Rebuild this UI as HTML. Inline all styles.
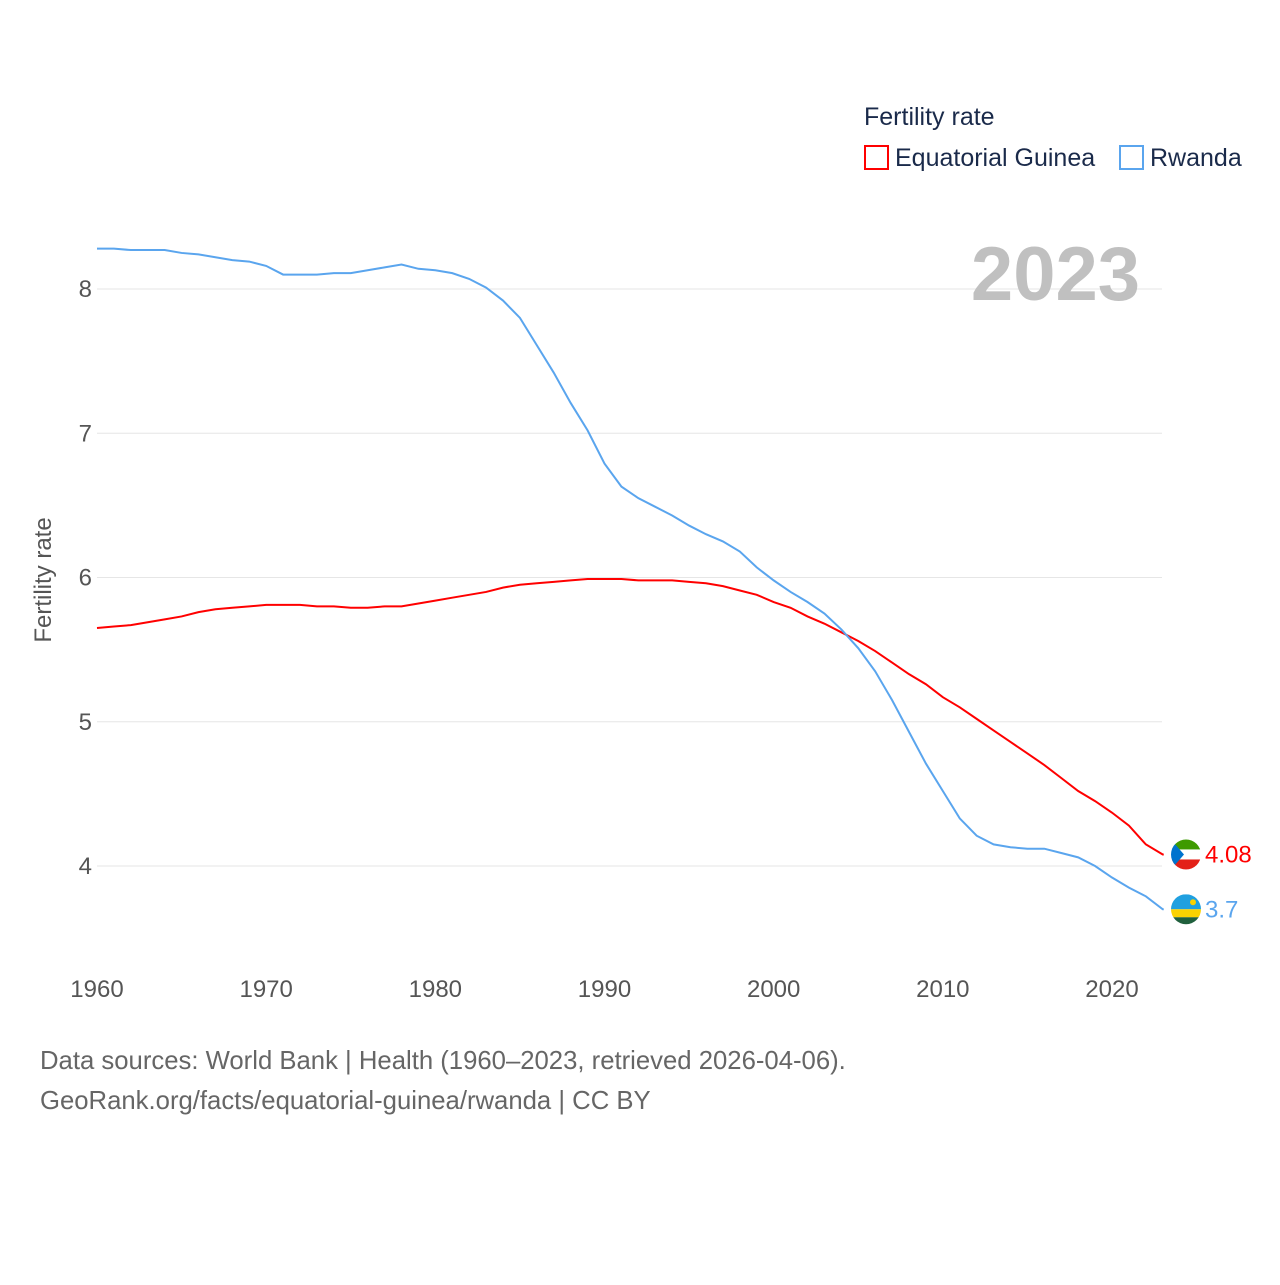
<!DOCTYPE html>
<html><head><meta charset="utf-8"><style>
body{margin:0;background:#fff;font-family:"Liberation Sans",sans-serif}
svg text{font-family:"Liberation Sans",sans-serif}
</style></head><body>
<svg width="1280" height="1280" viewBox="0 0 1280 1280">
<g id="grid"></g><g id="lines"></g>
<text x="864" y="125" font-size="25" fill="#1a2a4a">Fertility rate</text>
<g><rect x="865" y="146" width="23" height="23" fill="none" stroke="#f00" stroke-width="2"/><text x="895" y="166" font-size="25" fill="#1a2a4a">Equatorial Guinea</text></g>
<g><rect x="1120" y="146" width="23" height="23" fill="none" stroke="#5aa5ee" stroke-width="2"/><text x="1150" y="166" font-size="25" fill="#1a2a4a">Rwanda</text></g>
<text x="1140" y="300" font-size="76" font-weight="bold" fill="#c0c0c0" text-anchor="end">2023</text>
<text transform="translate(51,580) rotate(-90)" font-size="24" fill="#555" text-anchor="middle">Fertility rate</text>
<text x="40" y="1069" font-size="25.7" fill="#666">Data sources: World Bank | Health (1960–2023, retrieved 2026-04-06).</text>
<text x="40" y="1109" font-size="25.7" fill="#666">GeoRank.org/facts/equatorial-guinea/rwanda | CC BY</text>
</svg>
<script>
const years=[];for(let y=1960;y<=2023;y++)years.push(y);
const yTicks=[4,5,6,7,8];
const xTicks=[1960,1970,1980,1990,2000,2010,2020];
const rwanda=[8.28,8.28,8.27,8.27,8.27,8.25,8.24,8.22,8.20,8.19,8.16,8.10,8.10,8.10,8.11,8.11,8.13,8.15,8.17,8.14,8.13,8.11,8.07,8.01,7.92,7.80,7.61,7.42,7.21,7.02,6.79,6.63,6.55,6.49,6.43,6.36,6.30,6.25,6.18,6.07,5.98,5.90,5.83,5.75,5.64,5.51,5.35,5.15,4.93,4.71,4.52,4.33,4.21,4.15,4.13,4.12,4.12,4.09,4.06,4.00,3.92,3.85,3.79,3.70];
const eqGuinea=[5.65,5.66,5.67,5.69,5.71,5.73,5.76,5.78,5.79,5.80,5.81,5.81,5.81,5.80,5.80,5.79,5.79,5.80,5.80,5.82,5.84,5.86,5.88,5.90,5.93,5.95,5.96,5.97,5.98,5.99,5.99,5.99,5.98,5.98,5.98,5.97,5.96,5.94,5.91,5.88,5.83,5.79,5.73,5.68,5.62,5.56,5.49,5.41,5.33,5.26,5.17,5.10,5.02,4.94,4.86,4.78,4.70,4.61,4.52,4.45,4.37,4.28,4.15,4.08];
const X=y=>97+(y-1960)*(1112-97)/60;
const Y=v=>866-(v-4)*144.25;
const NS="http://www.w3.org/2000/svg";
const grid=document.getElementById('grid'),lines=document.getElementById('lines');
yTicks.forEach(t=>{
 const l=document.createElementNS(NS,'line');
 
 
 l.setAttribute('x1',97);l.setAttribute('x2',1162);l.setAttribute('y1',Y(t));l.setAttribute('y2',Y(t));l.setAttribute('stroke','#e6e6e6');grid.appendChild(l);
 const tx=document.createElementNS(NS,'text');
 
 
 tx.setAttribute('x',92);tx.setAttribute('y',Y(t)+8);tx.setAttribute('font-size',24);tx.setAttribute('fill','#555');tx.setAttribute('text-anchor','end');tx.textContent=t;grid.appendChild(tx);
});
xTicks.forEach(t=>{
 const tx=document.createElementNS(NS,'text');
 
 
 tx.setAttribute('x',X(t));tx.setAttribute('y',997);tx.setAttribute('font-size',24);tx.setAttribute('fill','#555');tx.setAttribute('text-anchor','middle');tx.textContent=t;grid.appendChild(tx);
});
function series(vals,color,name){
 const p=document.createElementNS(NS,'polyline');
 
 
 const pts=vals.map((v,i)=>X(years[i])+','+Y(v));
 pts.push((X(2023)+1)+','+Y(vals[vals.length-1]));
 p.setAttribute('points',pts.join(' '));
 p.setAttribute('fill','none');p.setAttribute('stroke',color);p.setAttribute('stroke-width',2);lines.appendChild(p);
 const last=vals[vals.length-1];
 const cy=Y(last);
 const g=document.createElementNS(NS,'g');
 
 
 if(name==='rwanda'){
  g.innerHTML=`<clipPath id="cr"><circle cx="1186" cy="${cy}" r="15"/></clipPath><g clip-path="url(#cr)"><rect x="1171" y="${cy-15}" width="30" height="15" fill="#20a0e0"/><rect x="1171" y="${cy}" width="30" height="8" fill="#fad201"/><rect x="1171" y="${cy+8}" width="30" height="8" fill="#20603d"/><circle cx="1193" cy="${cy-7}" r="3" fill="#fad201"/></g>`;
 } else {
  g.innerHTML=`<clipPath id="ce"><circle cx="1186" cy="${cy}" r="15"/></clipPath><g clip-path="url(#ce)"><rect x="1171" y="${cy-15}" width="30" height="10" fill="#3e9a00"/><rect x="1171" y="${cy-5}" width="30" height="10" fill="#fff"/><rect x="1171" y="${cy+5}" width="30" height="10" fill="#e32118"/><polygon points="1171,${cy-15} 1184,${cy} 1171,${cy+15}" fill="#0073ce"/></g>`;
 }
 lines.appendChild(g);
 const t=document.createElementNS(NS,'text');
 
 
 t.setAttribute('x',1205);t.setAttribute('y',cy+8);t.setAttribute('font-size',24);t.setAttribute('fill',color);t.textContent=last;lines.appendChild(t);
}
series(eqGuinea,'#ff0000','equatorial-guinea');
series(rwanda,'#5aa5ee','rwanda');
</script>
</body></html>
